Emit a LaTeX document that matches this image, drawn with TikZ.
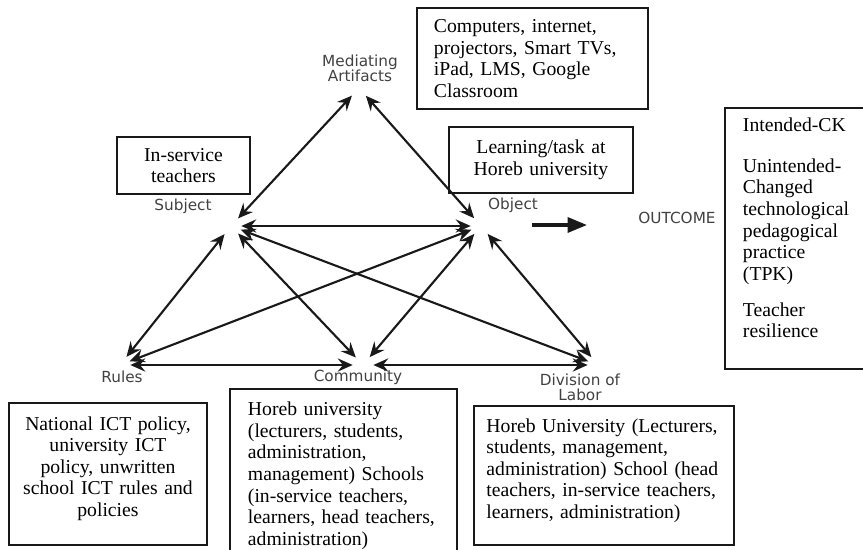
\documentclass[tikz,border=0pt]{standalone}
\usepackage{fontspec}
\setmainfont{Liberation Serif}
\newfontfamily\lblfont{DejaVu Sans}
\definecolor{atink}{RGB}{25,25,25}
\definecolor{atgray}{RGB}{65,65,65}
\usetikzlibrary{arrows.meta,positioning}

\begin{document}
\begin{tikzpicture}
        \tikzset{infobox/.style={rectangle, draw=atink, line width=1.1pt, anchor=north west,
            font=\fontsize{11.2}{12.3}\selectfont, inner ysep=3pt},
            apex/.style={circle, minimum size=0.4cm, inner sep=0pt},
            lbl/.style={font=\lblfont\fontsize{8.7}{8.6}\selectfont, text=atgray, align=center, inner sep=0pt},
            link/.style={{Stealth[length=8.5pt,width=7.5pt,inset=3pt]}-{Stealth[length=8.5pt,width=7.5pt,inset=3pt]},
            line width=1.2pt, draw=atink}}
        \useasboundingbox (0,0) rectangle (17.26,-11.0);
        \clip (0,0) rectangle (17.26,-11.0);
        % Corners of the activity triangle
        \node[apex] (ma)   at (7.18,-1.76) {};
        \node[apex] (subj) at (4.62,-4.52) {};
        \node[apex] (obj)  at (9.62,-4.52) {};
        \node[apex] (rul)  at (2.40,-7.30) {};
        \node[apex] (com)  at (7.26,-7.30) {};
        \node[apex] (div)  at (11.96,-7.30) {};
        % Corner labels
        \node[lbl] (malbl)  at (7.20,-1.36)  {Mediating\\Artifacts};
        \node[lbl] (subjlbl) at (3.66,-4.12) {Subject};
        \node[lbl] (objlbl) at (10.26,-4.10) {Object};
        \node[lbl] (rullbl) at (2.44,-7.54)  {Rules};
        \node[lbl] (comlbl) at (7.16,-7.54)  {Community};
        \node[lbl] (divlbl) at (11.60,-7.74) {Division of\\Labor};
        \node[lbl] (outlbl) at (13.54,-4.36) {OUTCOME};
        % Links
        \draw[link] (ma) -- (subj);
        \draw[link] (ma) -- (obj);
        \draw[link] (subj) -- (obj);
        \draw[link] (subj) -- (rul);
        \draw[link] (subj) -- (com);
        \draw[link] (subj) -- (div);
        \draw[link] (obj) -- (rul);
        \draw[link] (obj) -- (com);
        \draw[link] (obj) -- (div);
        \draw[link] (rul) -- (com);
        \draw[link] (com) -- (div);
        % Outcome arrow
        \coordinate (outfrom) at (10.64,-4.50);
        \coordinate (outto) at (11.74,-4.50);
        \draw[-{Triangle[length=11pt,width=8.5pt]}, line width=1.9pt, draw=atink] (outfrom) -- (outto);
        % Boxes
        \node[infobox, align=left, inner xsep=0.34cm, text width=3.94cm, minimum height=2.02cm]
            (compbox) at (8.32,-0.14) {Computers, internet,\\projectors, Smart TVs,\\iPad, LMS, Google\\Classroom};
        \node[infobox, align=center, inner xsep=0.2cm, text width=3.28cm, minimum height=1.32cm]
            (learnbox) at (8.96,-2.52) {Learning/task at\\Horeb university};
        \node[infobox, align=center, inner xsep=0.2cm, text width=2.26cm, minimum height=1.14cm]
            (subjbox) at (2.32,-2.72) {In-service\\teachers};
        \node[infobox, align=left, inner xsep=0.36cm, text width=2.28cm, minimum height=5.22cm]
            (outbox) at (14.48,-2.14) {Intended-CK\\[11pt]Unintended-\\Changed\\technological\\pedagogical\\practice\\(TPK)\\[8pt]Teacher\\resilience\\\mbox{}};
        \node[infobox, align=center, inner xsep=0.2cm, text width=3.56cm, minimum height=2.84cm]
            (rulbox) at (0.16,-8.04) {National ICT policy,\\university ICT\\policy, unwritten\\school ICT rules and\\policies\\[-3.7pt]\mbox{}};
        \node[infobox, align=left, inner xsep=0.36cm, inner ysep=0.26cm, text width=3.82cm]
            (combox) at (4.58,-7.76) {Horeb university\\(lecturers, students,\\administration,\\management) Schools\\(in-service teachers,\\learners, head teachers,\\administration)};
        \node[infobox, align=left, inner xsep=0.25cm, text width=4.70cm, minimum height=2.78cm]
            (divbox) at (9.46,-8.10) {Horeb University (Lecturers,\\students, management,\\administration) School (head\\teachers, in-service teachers,\\learners, administration)\\[-4.3pt]\mbox{}};
      \end{tikzpicture}
\end{document}
